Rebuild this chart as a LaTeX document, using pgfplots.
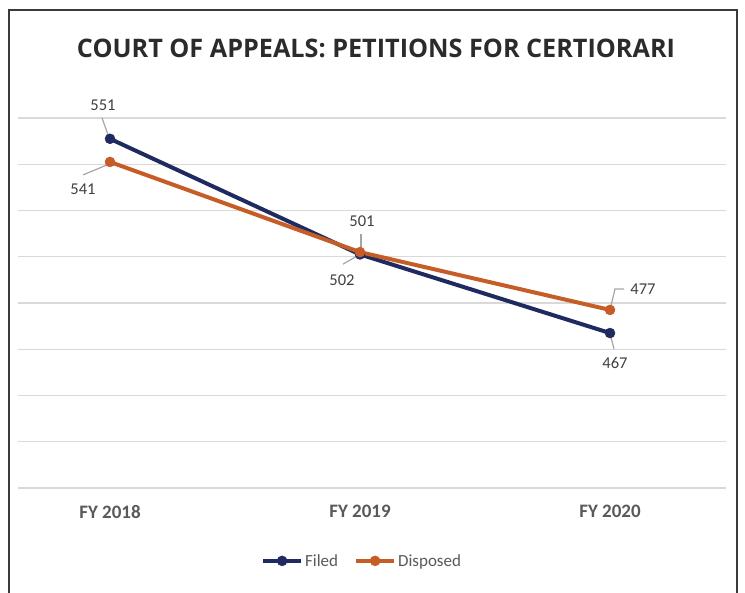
\documentclass[border=0pt]{standalone}
\usepackage{fontspec}
\setmainfont{Carlito}
\newfontfamily\titlefont{Open Sans}
\usepackage{pgfplots}
\pgfplotsset{compat=1.18}
\definecolor{navy}{HTML}{1F2A60}
\definecolor{orng}{HTML}{C65D26}
\definecolor{gridc}{HTML}{D9D9D9}
\definecolor{txt}{HTML}{404040}
\definecolor{ttl}{HTML}{2B2B2B}
\definecolor{tick}{HTML}{595959}
\definecolor{lead}{HTML}{A6A6A6}
\definecolor{frame}{HTML}{3A3A3A}
\begin{document}
\begin{tikzpicture}[x=1pt,y=1pt]
\useasboundingbox (0,0) rectangle (745,593);
\draw[frame, line width=2pt] (9,0) -- (9,583) -- (737,583) -- (737,0);
\node[ttl, inner sep=0pt] at (376,545) {\resizebox{598pt}{18.5pt}{\titlefont\bfseries COURT OF APPEALS: PETITIONS FOR CERTIORARI}};
\begin{axis}[
  at={(18pt,105pt)}, anchor=south west,
  scale only axis, width=708pt, height=370pt,
  xmin=-0.368, xmax=2.464, ymin=400, ymax=560,
  xtick={0,1,2}, xticklabels={FY 2018,FY 2019,FY 2020},
  ytick={400,420,...,560}, yticklabels={},
  ymajorgrids, grid style={gridc, line width=1.3pt},
  major tick length=0pt,
  axis line style={draw=none},
  xticklabel style={font=\fontsize{19}{22}\selectfont\bfseries, text=tick, inner sep=0pt, yshift=-17pt},
  clip=false,
  legend style={at={(0.486,-0.197)}, anchor=center, draw=none, fill=none,
    font=\fontsize{17}{20}\selectfont, text=tick, legend columns=2,
    /tikz/every even column/.append style={column sep=14pt}, inner sep=0pt},
  legend cell align=left,
  legend image code/.code={\draw[mark repeat=2,mark phase=2,#1] plot coordinates {(0pt,0pt) (19pt,0pt) (38pt,0pt)};},
]
\addplot[navy, line width=4pt, mark=*, mark size=5pt, mark options={solid, line width=0.5pt}] coordinates {(0,551) (1,501) (2,467)};
\addlegendentry{Filed}
\addplot[orng, line width=4pt, mark=*, mark size=5pt, mark options={solid, line width=0.5pt}] coordinates {(0,541) (1,502) (2,477)};
\addlegendentry{Disposed}
% leader lines
\draw[lead, line width=1.2pt] (axis cs:0,551) ++(-8pt,21pt) -- ++(6pt,-17pt);
\draw[lead, line width=1.2pt] (axis cs:0,541) ++(-27pt,-13pt) -- ++(24pt,10pt);
\draw[lead, line width=1.2pt] (axis cs:1,501) ++(1pt,20pt) -- ++(0pt,-16pt);
\draw[lead, line width=1.2pt] (axis cs:1,502) ++(-17pt,-12pt) -- ++(14pt,8pt);
\draw[lead, line width=1.2pt] (axis cs:2,477) ++(1pt,4pt) -- ++(4pt,17pt) -- ++(9pt,0pt);
\draw[lead, line width=1.2pt] (axis cs:2,467) ++(1pt,-4pt) -- ++(3pt,-12pt);
% data labels
\tikzset{dl/.style={text=txt, font=\fontsize{16.5}{19}\selectfont, inner sep=0pt}}
\node[dl] at (axis cs:0,551) [xshift=-7pt, yshift=34pt] {551};
\node[dl] at (axis cs:0,541) [xshift=-27pt, yshift=-27pt] {541};
\node[dl] at (axis cs:1,501) [xshift=2pt, yshift=33pt] {501};
\node[dl] at (axis cs:1,502) [xshift=-18pt, yshift=-28pt] {502};
\node[dl] at (axis cs:2,477) [xshift=33pt, yshift=21pt] {477};
\node[dl] at (axis cs:2,467) [xshift=5pt, yshift=-30pt] {467};
\end{axis}
\end{tikzpicture}
\end{document}
